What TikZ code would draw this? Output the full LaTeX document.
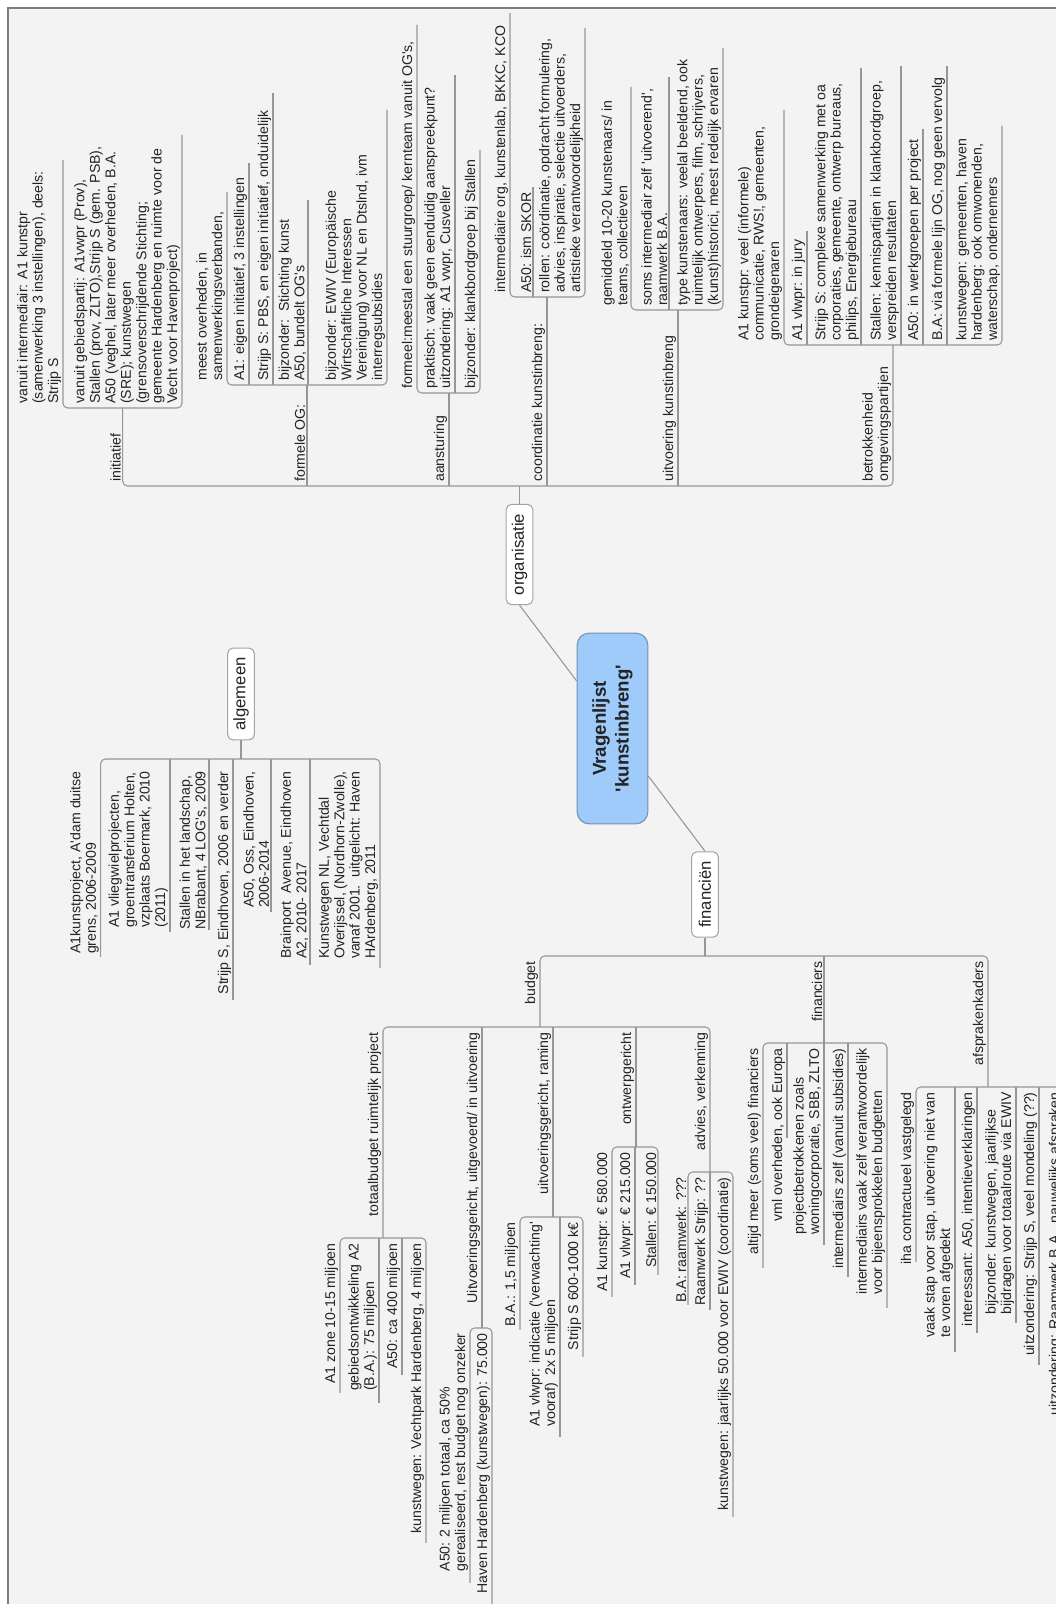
\documentclass[tikz,border=0pt]{standalone}
\usepackage{fontspec}
\newfontfamily\lsans{Liberation Sans}
\definecolor{lc}{RGB}{150,150,150}
\definecolor{tc}{RGB}{35,35,35}
\definecolor{bgc}{RGB}{243,243,243}
\definecolor{framec}{RGB}{125,125,125}
\definecolor{rootfill}{RGB}{158,203,250}
\definecolor{rootdraw}{RGB}{115,145,180}
\definecolor{boxdraw}{RGB}{165,165,165}
\newcommand\mytf{\lsans\fontsize{10.6}{11.6}\selectfont}
% right-side topic text: name, bus y, line x, text
\newcommand\tpr[4]{\node[rt] (#1) at ({-(#2)+4},{-(#3)}) {#4};}
% left-side topic text
\newcommand\tpl[4]{\node[lt] (#1) at ({-(#2)-5},{-(#3)}) {#4};}
\begin{document}
\begin{tikzpicture}[x=0.75pt,y=0.75pt,
  ln/.style={draw=lc, line width=0.8pt, rounded corners=3.5pt},
  rt/.style={anchor=south west, align=left, inner xsep=0pt, inner ysep=1.2pt, font=\mytf, text=tc},
  lt/.style={anchor=south east, align=left, inner xsep=0pt, inner ysep=1.2pt, font=\mytf, text=tc},
  mainbox/.style={draw=boxdraw, line width=0.8pt, fill=white, rounded corners=4pt, font=\lsans\fontsize{12.5}{15}\selectfont, inner xsep=7pt, inner ysep=0pt, minimum height=20pt, text=tc},
  rootbox/.style={draw=rootdraw, line width=0.8pt, fill=rootfill, rounded corners=9pt, font=\lsans\bfseries\fontsize{14}{17}\selectfont, align=center, minimum width=143pt, minimum height=53pt, text=tc}]
\useasboundingbox (0,0) rectangle (1056,1604);
\clip (0,0) rectangle (1056,1604);
\fill[white] (0,0) rectangle (1056,1604);
\fill[bgc] (8,0) rectangle (1056,1596);
\draw[framec, line width=1.2pt] (8,0) -- (8,1596) -- (1056,1596);
\begin{scope}[shift={(0,1604)}, rotate=90, transform shape]
% ---------- main nodes
\node[rootbox] (root) at (-728.5,-612.5) {Vragenlijst\\'kunstinbreng'};
\node[mainbox] (org) at (-554.5,-519.5) {organisatie};
\node[mainbox] (fin) at (-894.5,-705) {financiën};
\node[mainbox] (alg) at (-694,-241) {algemeen};
\draw[ln] (root.37) -- (org.west);
\draw[ln] (root.217) -- (fin.east);

% ---------- organisatie
\draw[ln] (org.east) -- (-486,-519.5);
\draw[ln] (-408,-122.7) -- (-486,-122.7) -- (-486,-893) -- (-345,-893);
\draw[ln] (-486,-307) -- (-385,-307);
\draw[ln] (-486,-449) -- (-393,-449);
\draw[ln] (-486,-547) -- (-297,-547);
\draw[ln] (-486,-678) -- (-310,-678);
\tpr{init}{486}{122.7}{initiatief}
\tpr{fog}{486}{307}{formele OG:}
\tpr{aan}{486}{449}{aansturing}
\tpr{coo}{486}{547}{coordinatie kunstinbreng:}
\tpr{uit}{486}{678}{uitvoering kunstinbreng}
\tpr{bet}{486}{893}{betrokkenheid\\omgevingspartijen}
% initiatief
\draw[ln] (-160,-63) -- (-408,-63) -- (-408,-182) -- (-135,-182);
\tpr{inita}{408}{63}{vanuit intermediair: A1 kunstpr\\(samenwerking 3 instellingen), deels:\\Strijp S}
\tpr{initb}{408}{182}{vanuit gebiedspartij: A1vwpr (Prov),\\Stallen (prov, ZLTO),Strijp S (gem. PSB),\\A50 (veghel, later meer overheden, B.A.\\(SRE); kunstwegen\\(grensoverschrijdende Stichting;\\gemeente Hardenberg en ruimte voor de\\Vecht voor Havenproject)}
% formele OG
\draw[ln] (-192,-227) -- (-385,-227) -- (-385,-387) -- (-110,-387);
\draw[ln] (-385,-249) -- (-163,-249);
\draw[ln] (-385,-273) -- (-93,-273);
\draw[ln] (-385,-308) -- (-200,-308);
\tpr{foga}{385}{227}{meest overheden, in\\samenwerkingsverbanden,}
\tpr{fogb}{385}{249}{A1: eigen initiatief, 3 instellingen}
\tpr{fogc}{385}{273}{Strijp S: PBS, en eigen initiatief, onduidelijk}
\tpr{fogd}{385}{308}{bijzonder:\ \ Stichting kunst\\A50, bundelt OG's}
\tpr{foge}{385}{387}{bijzonder: EWIV (Europäische\\Wirtschaftliche Interessen\\Vereinigung) voor NL en Dtslnd, ivm\\interregsubsidies}
% aansturing
\draw[ln] (-25,-417) -- (-393,-417) -- (-393,-480) -- (-150,-480);
\draw[ln] (-393,-455) -- (-75,-455);
\tpr{aana}{393}{417}{formeel:meestal een stuurgroep/ kernteam vanuit OG's,}
\tpr{aanb}{393}{455}{praktisch: vaak geen eenduidig aanspreekpunt?\\uitzondering: A1 vwpr, Cusveller}
\tpr{aanc}{393}{480}{bijzonder: klankbordgroep bij Stallen}
% coordinatie
\draw[ln] (-13,-510) -- (-297,-510) -- (-297,-585) -- (-28,-585);
\draw[ln] (-297,-533) -- (-187,-533);
\tpr{cooa}{297}{510}{intermediaire org, kunstenlab, BKKC, KCO}
\tpr{coob}{297}{533}{A50: ism SKOR}
\tpr{cooc}{297}{585}{rollen: coördinatie, opdracht formulering,\\advies, inspiratie, selectie uitvoerders,\\artistieke verantwoordelijkheid}
% uitvoering
\draw[ln] (-87,-631) -- (-310,-631) -- (-310,-723) -- (-48,-723);
\draw[ln] (-310,-669) -- (-77,-669);
\tpr{uita}{310}{631}{gemiddeld 10-20 kunstenaars/ in\\teams, collectieven}
\tpr{uitb}{310}{669}{soms intermediair zelf 'uitvoerend',\\raamwerk B.A.}
\tpr{uitc}{310}{723}{type kunstenaars: veelal beeldend, ook\\ruimtelijk ontwerpers, film, schrijvers,\\(kunst)historici, meest redelijk ervaren}
% betrokkenheid
\draw[ln] (-110,-784) -- (-345,-784) -- (-345,-1002) -- (-126,-1002);
\draw[ln] (-345,-807) -- (-231,-807);
\draw[ln] (-345,-861) -- (-68,-861);
\draw[ln] (-345,-901) -- (-66,-901);
\draw[ln] (-345,-923) -- (-129,-923);
\draw[ln] (-345,-947) -- (-66,-947);
\tpr{beta}{345}{784}{A1 kunstpr: veel (informele)\\communicatie, RWS!, gemeenten,\\grondeigenaren}
\tpr{betb}{345}{807}{A1 vlwpr: in jury}
\tpr{betc}{345}{861}{Strijp S: complexe samenwerking met oa\\corporaties, gemeente, ontwerp bureaus,\\philips, Energiebureau}
\tpr{betd}{345}{901}{Stallen: kennispartijen in klankbordgroep,\\verspreiden resultaten}
\tpr{bete}{345}{923}{A50: in werkgroepen per project}
\tpr{betf}{345}{947}{B.A: via formele lijn OG, nog geen vervolg}
\tpr{betg}{345}{1002}{kunstwegen: gemeenten, haven\\hardenberg: ook omwonenden,\\waterschap, ondernemers}

% ---------- financien
\draw[ln] (fin.west) -- (-956,-705);
\draw[ln] (-1027,-540) -- (-956,-540) -- (-956,-988) -- (-1087,-988);
\draw[ln] (-956,-824) -- (-1043,-824);
\tpl{bud}{956}{540}{budget}
\tpl{fcs}{956}{824}{financiers}
\tpl{afs}{956}{988}{afsprakenkaders}
% budget
\draw[ln] (-1238,-383) -- (-1027,-383) -- (-1027,-710) -- (-1172,-710);
\draw[ln] (-1027,-482) -- (-1328,-482);
\draw[ln] (-1027,-553) -- (-1217,-553);
\draw[ln] (-1027,-636) -- (-1147,-636);
\tpl{buda}{1027}{383}{totaalbudget ruimtelijk project}
\tpl{budb}{1027}{482}{Uitvoeringsgericht, uitgevoerd/ in uitvoering}
\tpl{budc}{1027}{553}{uitvoeringsgericht, raming}
\tpl{budd}{1027}{636}{ontwerpgericht}
\tpl{bude}{1027}{710}{advies, verkenning}
% totaalbudget
\draw[ln] (-1393,-340) -- (-1238,-340) -- (-1238,-426) -- (-1543,-426);
\draw[ln] (-1238,-379) -- (-1403,-379);
\draw[ln] (-1238,-402) -- (-1375,-402);
\tpl{tota}{1238}{340}{A1 zone 10-15 miljoen}
\tpl{totb}{1238}{379}{gebiedsontwikkeling A2\\(B.A.): 75 miljoen}
\tpl{totc}{1238}{402}{A50: ca 400 miljoen}
\tpl{totd}{1238}{426}{kunstwegen: Vechtpark Hardenberg, 4 miljoen}
% uitgevoerd
\draw[ln] (-1583,-470) -- (-1328,-470) -- (-1328,-492) -- (-1650,-492);
\tpl{uvga}{1328}{470}{A50: 2 miljoen totaal, ca 50\%\\gerealiseerd, rest budget nog onzeker}
\tpl{uvgb}{1328}{492}{Haven Hardenberg (kunstwegen): 75.000}
% raming
\draw[ln] (-1330,-520) -- (-1217,-520) -- (-1217,-583) -- (-1357,-583);
\draw[ln] (-1217,-560) -- (-1437,-560);
\tpl{rama}{1217}{520}{B.A.: 1,5 miljoen}
\tpl{ramb}{1217}{560}{A1 vlwpr: indicatie ('verwachting'\\vooraf)\ \ 2x 5 miljoen}
\tpl{ramc}{1217}{583}{Strijp S 600-1000 k€}
% ontwerpgericht
\draw[ln] (-1297,-612) -- (-1147,-612) -- (-1147,-658) -- (-1275,-658);
\draw[ln] (-1147,-635) -- (-1285,-635);
\tpl{onta}{1147}{612}{A1 kunstpr: € 580.000}
\tpl{ontb}{1147}{635}{A1 vlwpr: € 215.000}
\tpl{ontc}{1147}{658}{Stallen: € 150.000}
% advies
\draw[ln] (-1305,-688) -- (-1172,-688) -- (-1172,-733) -- (-1517,-733);
\draw[ln] (-1172,-710) -- (-1310,-710);
\tpl{adva}{1172}{688}{B.A: raamwerk: ???}
\tpl{advb}{1172}{710}{Raamwerk Strijp: ??}
\tpl{advc}{1172}{733}{kunstwegen: jaarlijks 50.000 voor EWIV (coordinatie)}
% financiers
\draw[ln] (-1268,-763) -- (-1043,-763) -- (-1043,-887) -- (-1308,-887);
\draw[ln] (-1043,-787) -- (-1138,-787);
\draw[ln] (-1043,-824) -- (-1245,-824);
\draw[ln] (-1043,-848) -- (-1277,-848);
\tpl{fcsa}{1043}{763}{altijd meer (soms veel) financiers}
\tpl{fcsb}{1043}{787}{vml overheden, ook Europa}
\tpl{fcsc}{1043}{824}{projectbetrokkenen zoals\\woningcorporatie, SBB, ZLTO}
\tpl{fcsd}{1043}{848}{intermediairs zelf (vanuit subsidies)}
\tpl{fcse}{1043}{887}{intermediairs vaak zelf verantwoordelijk\\voor bijeensprokkelen budgetten}
% afsprakenkaders
\draw[ln] (-1262,-916) -- (-1087,-916) -- (-1087,-1064) -- (-1700,-1064);
\draw[ln] (-1087,-955) -- (-1352,-955);
\draw[ln] (-1087,-977) -- (-1333,-977);
\draw[ln] (-1087,-1016) -- (-1323,-1016);
\draw[ln] (-1087,-1039) -- (-1365,-1039);
\tpl{afsa}{1087}{916}{iha contractueel vastgelegd}
\tpl{afsb}{1087}{955}{vaak stap voor stap, uitvoering niet van\\te voren afgedekt}
\tpl{afsc}{1087}{977}{interessant: A50, intentieverklaringen}
\tpl{afsd}{1087}{1016}{bijzonder: kunstwegen, jaarlijkse\\bijdragen voor totaalroute via EWIV}
\tpl{afse}{1087}{1039}{uitzondering: Strijp S, veel mondeling (??)}
\tpl{afsf}{1087}{1064}{uitzondering: Raamwerk B.A., nauwelijks afspraken}

% ---------- algemeen
\draw[ln] (alg.west) -- (-759,-241);
\draw[ln] (-957,-100.7) -- (-759,-100.7) -- (-759,-380) -- (-968,-380);
\draw[ln] (-759,-170) -- (-932,-170);
\draw[ln] (-759,-209) -- (-930,-209);
\draw[ln] (-759,-233) -- (-1000,-233);
\draw[ln] (-759,-271) -- (-912,-271);
\draw[ln] (-759,-310) -- (-965,-310);
\tpl{alga}{766}{100.7}{A1kunstproject, A'dam duitse\\grens, 2006-2009}
\tpl{algb}{766}{170}{A1 vliegwielprojecten,\\groentransferium Holten,\\vzplaats Boermark, 2010\\(2011)}
\tpl{algc}{766}{209}{Stallen in het landschap,\\NBrabant, 4 LOG's, 2009}
\tpl{algd}{766}{233}{Strijp S, Eindhoven, 2006 en verder}
\tpl{alge}{766}{271}{A50, Oss, Eindhoven,\\2006-2014}
\tpl{algf}{766}{310}{Brainport\ \ Avenue, Eindhoven\\A2, 2010- 2017}
\tpl{algg}{766}{380}{Kunstwegen NL, Vechtdal\\Overijssel, (Nordhorn-Zwolle),\\vanaf 2001.\ \ uitgelicht: Haven\\HArdenberg, 2011}
\end{scope}
\end{tikzpicture}
\end{document}
